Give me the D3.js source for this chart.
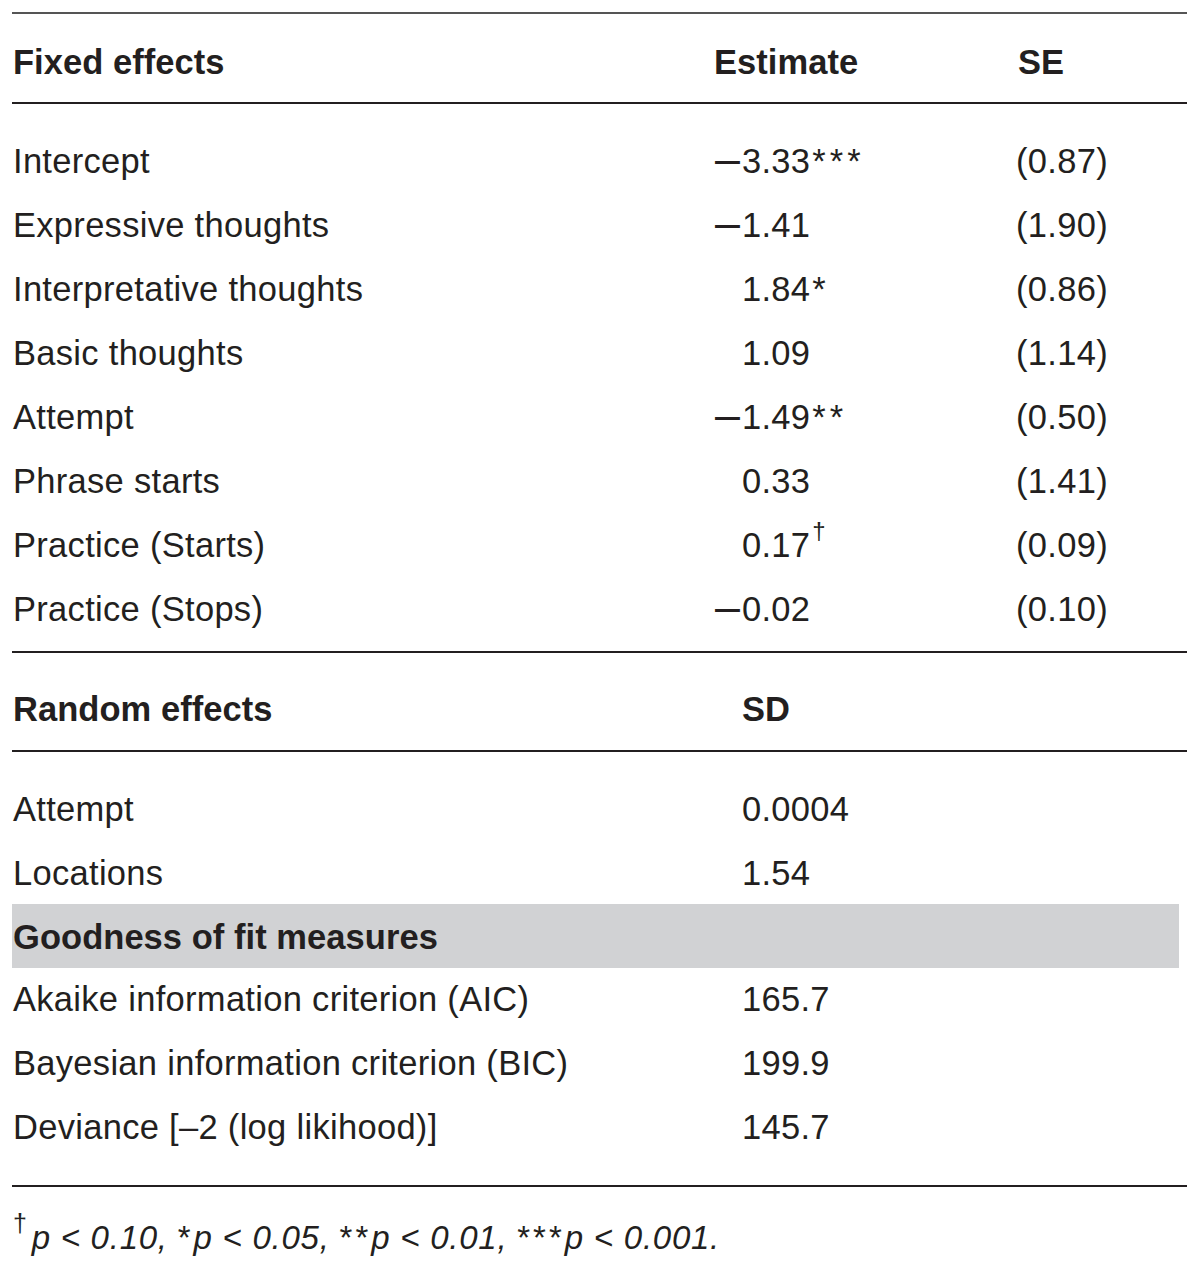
<!DOCTYPE html>
<html>
<head>
<meta charset="utf-8">
<script src="https://cdn.jsdelivr.net/npm/d3@7/dist/d3.min.js"></script>
<style>
  html, body { margin: 0; padding: 0; background: #fff; }
  svg text { font-family: "Liberation Sans", Arial, Helvetica, sans-serif; fill: #231f20; }
</style>
</head>
<body>
<svg id="chart" width="1200" height="1266"></svg>
<script>
// ---- data ----
const fixedHeaders = ["Fixed effects", "Estimate", "SE"];
const fixedLabels = ["Intercept", "Expressive thoughts", "Interpretative thoughts", "Basic thoughts",
  "Attempt", "Phrase starts", "Practice (Starts)", "Practice (Stops)"];
const estimates = [-3.33, -1.41, 1.84, 1.09, -1.49, 0.33, 0.17, -0.02];
const estimateMarks = ["***", "", "*", "", "**", "", "†", ""];
const seValues = [0.87, 1.90, 0.86, 1.14, 0.50, 1.41, 0.09, 0.10];

const randomHeaders = ["Random effects", "SD"];
const randomLabels = ["Attempt", "Locations"];
const randomSD = ["0.0004", "1.54"];

const fitHeader = "Goodness of fit measures";
const fitLabels = ["Akaike information criterion (AIC)", "Bayesian information criterion (BIC)", "Deviance [–2 (log likihood)]"];
const fitValues = [165.7, 199.9, 145.7];

const footnoteParts = ["†", "p < 0.10, ", "*", "p < 0.05, ", "**", "p < 0.01, ", "***", "p < 0.001."];

// ---- layout ----
const svg = d3.select("#chart");
const FS = 34.5;
const LS = 0.3;
const BLS = 0.05;
const xL = 12, xR = 1187;
const col = d3.scaleOrdinal().domain(["label", "est", "se"]).range([13, 714, 1016]);
const posShift = 28; // width of minus sign for alignment
const rowY = d3.scaleLinear().domain([0, 1]).range([161, 225]);

function txt(x, y, s, opts = {}) {
  return svg.append("text").attr("x", x).attr("y", y).attr("dy", (opts.dy != null ? opts.dy : 0.35 * FS))
    .attr("font-size", opts.size || FS)
    .attr("letter-spacing", opts.ls != null ? opts.ls : LS)
    .attr("font-weight", opts.bold ? "bold" : "normal")
    .attr("font-style", opts.italic ? "italic" : "normal")
    .text(s);
}
function hline(y, color, w) {
  svg.append("line").attr("x1", xL).attr("x2", xR).attr("y1", y).attr("y2", y)
    .attr("stroke", color || "#231f20").attr("stroke-width", w || 2);
}
const fmt = d3.format(".2f");

// rules
hline(13, "#555", 2);
hline(103);
hline(652);
hline(751);
hline(1186);

// fixed header
txt(col("label"), 62, fixedHeaders[0], {bold: true, ls: BLS});
txt(col("est"), 62, fixedHeaders[1], {bold: true, ls: BLS});
txt(col("se") + 2, 62, fixedHeaders[2], {bold: true, ls: BLS});

// fixed rows
const fixedG = svg.selectAll("g.fixed").data(fixedLabels.map((l, i) => ({l, e: estimates[i], m: estimateMarks[i], se: seValues[i], i})))
  .enter().append("g").attr("class", "fixed");
fixedG.each(function(d) {
  const y = rowY(d.i);
  txt(col("label"), y, d.l);
  if (d.e < 0) {
    txt(col("est") + 1, y, "–", {size: FS * 1.3, ls: 0, dy: 0.38 * FS});
  }
  const t = txt(col("est") + posShift, y, fmt(Math.abs(d.e)));
  if (d.m === "†") {
    t.append("tspan").attr("font-size", 24).attr("dy", -18).attr("dx", 2).text(d.m);
  } else if (d.m) {
    t.append("tspan").attr("letter-spacing", 4).attr("dx", 2).text(d.m);
  }
  txt(col("se"), y, "(" + fmt(d.se) + ")");
});

// random effects
txt(col("label"), 709, randomHeaders[0], {bold: true, ls: BLS});
txt(col("est") + posShift, 709, randomHeaders[1], {bold: true, ls: BLS});
randomLabels.forEach((l, i) => {
  const y = rowY(10.125 + i);
  txt(col("label"), y, l);
  txt(col("est") + posShift, y, randomSD[i]);
});

// goodness of fit band
svg.append("rect").attr("x", xL).attr("y", 904).attr("width", 1167).attr("height", 64).attr("fill", "#d1d2d4");
txt(col("label"), rowY(12.125), fitHeader, {bold: true, ls: BLS});
fitLabels.forEach((l, i) => {
  const y = rowY(13.1 + i);
  txt(col("label"), y, l);
  txt(col("est") + posShift, y, d3.format(".1f")(fitValues[i]));
});

// footnote
const fn = svg.append("text").attr("x", 13).attr("y", 1249)
  .attr("font-size", 33).attr("font-style", "italic").attr("letter-spacing", 0.75);
footnoteParts.forEach((p, i) => {
  const ts = fn.append("tspan").text(p);
  if (i === 0) {
    ts.attr("font-style", "normal").attr("font-size", 25).attr("dy", -17);
  } else if (i === 1) {
    ts.attr("dy", 17).attr("dx", 4);
  } else if (p.indexOf("*") === 0) {
    ts.attr("font-style", "normal").attr("letter-spacing", 3);
  }
});
</script>
</body>
</html>
